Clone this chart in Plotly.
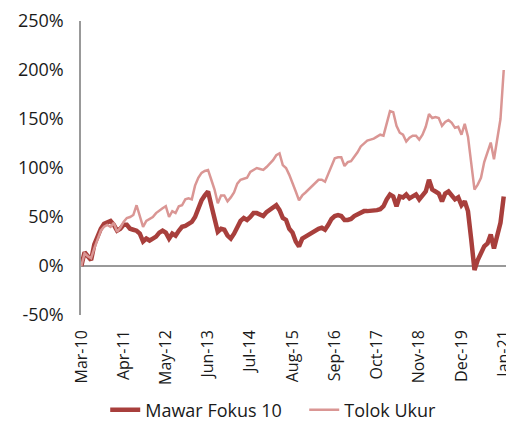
import pandas as pd
import plotly.graph_objects as go

# Monthly cumulative return (%), Mar-10 .. Jan-21
months = pd.date_range("2010-03-01", periods=131, freq="MS").strftime("%b-%y").tolist()

mawar_fokus_10 = [
    0, 14, 10, 6, 22, 30, 38, 43, 44, 46,
    42, 36, 38, 42, 42, 38, 37, 36, 33, 25,
    28, 26, 28, 30, 34, 36, 34, 28, 33, 31,
    36, 40, 41, 43, 45, 50, 60, 67, 72, 76,
    62, 50, 35, 38, 37, 31, 28, 33, 40, 46,
    49, 47, 50, 54, 54, 52, 51, 55, 57, 59,
    62, 57, 49, 47, 38, 34, 25, 20, 28, 30,
    32, 34, 37, 38, 39, 37, 42, 48, 51, 52,
    51, 47, 47, 48, 51, 53, 55, 56, 56, 56,
    57, 57, 58, 61, 68, 73, 71, 61, 71, 70,
    73, 69, 71, 73, 68, 72, 76, 88, 78, 76,
    74, 66, 74, 76, 72, 68, 70, 62, 66, 56,
    27, -4, 6, 14, 20, 23, 32, 18, 30, 44,
    71,
]

tolok_ukur = [
    0, 13, 10, 8, 18, 28, 36, 40, 42, 40,
    44, 35, 39, 45, 49, 50, 52, 62, 52, 40,
    46, 48, 50, 54, 57, 59, 61, 50, 56, 54,
    61, 62, 68, 69, 68, 82, 90, 95, 97, 98,
    88, 78, 64, 72, 72, 66, 70, 75, 84, 88,
    89, 90, 96, 98, 100, 99, 98, 101, 104, 108,
    113, 115, 103, 100, 93, 85, 76, 67, 72, 75,
    78, 81, 85, 88, 88, 86, 94, 102, 110, 111,
    111, 102, 106, 107, 111, 116, 122, 125, 128, 129,
    130, 132, 134, 133, 146, 158, 157, 143, 136, 134,
    127, 131, 133, 133, 129, 134, 142, 155, 151, 152,
    151, 143, 147, 149, 146, 141, 142, 134, 145, 132,
    105, 78, 83, 90, 106, 116, 126, 109, 130, 150,
    200,
]

tick_months = months[::13]
y_ticks = [-50, 0, 50, 100, 150, 200, 250]
y_tick_text = [f"{v}%" for v in y_ticks]

fig = go.Figure()
fig.add_trace(go.Scatter(
    x=months, y=mawar_fokus_10, name="Mawar Fokus 10", mode="lines",
    line=dict(color="#A83F3C", width=4.5),
))
fig.add_trace(go.Scatter(
    x=months, y=tolok_ukur, name="Tolok Ukur", mode="lines",
    line=dict(color="#DA9694", width=2.5),
))

fig.update_layout(
    width=506, height=430,
    margin=dict(l=81, r=0, t=21, b=115),
    paper_bgcolor="white", plot_bgcolor="white",
    font=dict(family="Open Sans", size=18, color="#1a1a1a"),
    showlegend=True,
    legend=dict(
        orientation="h", x=0.057, xanchor="left", y=-0.323, yanchor="middle",
        font=dict(size=18), bgcolor="rgba(0,0,0,0)",
        traceorder="normal", entrywidth=154, entrywidthmode="pixels",
    ),
    xaxis=dict(
        type="category", range=[-0.1, 130.7], automargin=False,
        tickmode="array", tickvals=tick_months, ticktext=tick_months,
        tickangle=-90, tickfont=dict(size=16), ticklabelstandoff=11,
        showgrid=False, showline=False, zeroline=False, ticks="",
    ),
    yaxis=dict(
        range=[-50, 250], tickvals=y_ticks, ticktext=y_tick_text, automargin=False,
        showgrid=False, showline=True, linecolor="#999999", linewidth=1.5,
        zeroline=True, zerolinecolor="#999999", zerolinewidth=1.5,
        ticks="", tickfont=dict(size=18), ticklabelstandoff=12,
    ),
)

fig.write_html("out.html")
